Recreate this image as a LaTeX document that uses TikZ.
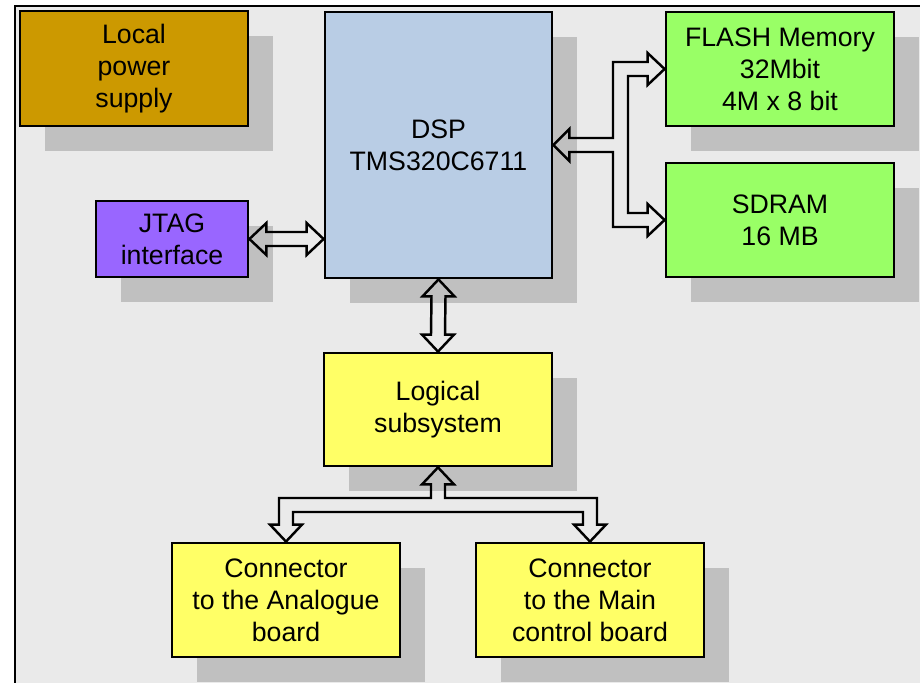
\documentclass[tikz,border=0pt]{standalone}
\usepackage{fontspec}
\setmainfont{Liberation Sans}
\usepackage{tikz}
\usetikzlibrary{calc,shadows,positioning}
\definecolor{panelgrey}{HTML}{EAEAEA}
\definecolor{shadowgrey}{HTML}{C0C0C0}
\definecolor{powerbrown}{HTML}{CC9900}
\definecolor{dspblue}{HTML}{B9CDE5}
\definecolor{memgreen}{HTML}{99FF66}
\definecolor{jtagviolet}{HTML}{9966FF}
\definecolor{logicyellow}{HTML}{FFFF66}
\tikzset{
  block/.style={draw=black, line width=1.6pt, rectangle, align=center,
    font=\fontsize{15.2}{18.2}\selectfont,
    drop shadow={shadow xshift=0.5cm, shadow yshift=-0.5cm, fill=shadowgrey, opacity=1}},
  hollow/.style={draw=black, line width=1.4pt, line join=miter},
}

\begin{document}
\begin{tikzpicture}[x=0.02cm,y=-0.02cm]

    \useasboundingbox (0,0) rectangle (920,683);

    %%%%%%%%%%%%%%%%%%
    %%%%% Panel %%%%%%
    %%%%%%%%%%%%%%%%%%
    \draw[fill=panelgrey, line width=1.2pt] (15,6) rectangle (940,700);

    %%%%%%%%%%%%%%%%%%
    %%%%% Blocks %%%%%
    %%%%%%%%%%%%%%%%%%
    \node[block, fill=powerbrown, minimum width=228*0.02cm, minimum height=115*0.02cm] (power) at (134,68.5) {Local\\power\\supply};
    \node[block, fill=dspblue, minimum width=227*0.02cm, minimum height=266*0.02cm] (dsp) at (438.5,145) {DSP\\TMS320C6711};
    \node[block, fill=memgreen, minimum width=228*0.02cm, minimum height=114*0.02cm] (flash) at (780,69) {FLASH Memory\\32Mbit\\4M x 8 bit};
    \node[block, fill=memgreen, minimum width=228*0.02cm, minimum height=114*0.02cm] (sdram) at (780,220) {SDRAM\\16 MB};
    \node[block, fill=jtagviolet, minimum width=152*0.02cm, minimum height=76*0.02cm] (jtag) at (172,239) {JTAG\\interface};
    \node[block, fill=logicyellow, minimum width=228*0.02cm, minimum height=113*0.02cm] (logic) at (438,409.5) {Logical\\subsystem};
    \node[block, fill=logicyellow, minimum width=228*0.02cm, minimum height=114*0.02cm] (analogue) at (286,600) {Connector\\to the Analogue\\board};
    \node[block, fill=logicyellow, minimum width=228*0.02cm, minimum height=114*0.02cm] (mainctl) at (590,600) {Connector\\to the Main\\control board};

    %%%%%%%%%%%%%%%%%%
    %%%%% Arrows %%%%%
    %%%%%%%%%%%%%%%%%%

    % JTAG <-> DSP
    \coordinate (jtagend) at (dsp.west |- jtag.east);
    \draw[hollow] (jtag.east) -- ++(17,-16) -- ++(0,9)
        -- ($(jtagend)+(-17,-7)$) -- ++(0,-9) -- (jtagend)
        -- ++(-17,16) -- ++(0,-9)
        -- ($(jtag.east)+(17,7)$) -- ++(0,9) -- cycle;

    % DSP <-> logical subsystem
    \draw[hollow] (dsp.south) -- ++(16,17) -- ++(-9,0)
        -- ($(logic.north)+(7,-17)$) -- ++(9,0) -- (logic.north)
        -- ++(-16,-17) -- ++(9,0)
        -- ($(dsp.south)+(-7,17)$) -- ++(-9,0) -- cycle;

    % DSP <-> FLASH and SDRAM
    \coordinate (busout) at (613,0);
    \coordinate (busin) at (628,0);
    \draw[hollow] (dsp.east) -- ++(16,-16) -- ++(0,9)
        -- ($(busout |- dsp.east)+(0,-7)$)
        -- ($(busout |- flash.west)+(0,-7)$)
        -- ($(flash.west)+(-17,-7)$) -- ++(0,-9) -- (flash.west)
        -- ++(-17,16) -- ++(0,-9)
        -- ($(busin |- flash.west)+(0,7)$)
        -- ($(busin |- sdram.west)+(0,-7)$)
        -- ($(sdram.west)+(-17,-7)$) -- ++(0,-9) -- (sdram.west)
        -- ++(-17,16) -- ++(0,-9)
        -- ($(busout |- sdram.west)+(0,7)$)
        -- ($(busout |- dsp.east)+(0,7)$)
        -- ($(dsp.east)+(16,7)$) -- ++(0,9) -- cycle;

    % Logical subsystem <-> both connectors
    \coordinate (busup) at (0,498);
    \coordinate (buslow) at (0,512);
    \draw[hollow] (logic.south) -- ++(16,17) -- ++(-9,0)
        -- ($(busup -| logic.south)+(7,0)$)
        -- ($(busup -| mainctl.north)+(7,0)$)
        -- ($(mainctl.north)+(7,-17)$) -- ++(9,0) -- (mainctl.north)
        -- ++(-16,-17) -- ++(9,0)
        -- ($(buslow -| mainctl.north)+(-7,0)$)
        -- ($(buslow -| analogue.north)+(7,0)$)
        -- ($(analogue.north)+(7,-17)$) -- ++(9,0) -- (analogue.north)
        -- ++(-16,-17) -- ++(9,0)
        -- ($(busup -| analogue.north)+(-7,0)$)
        -- ($(busup -| logic.south)+(-7,0)$)
        -- ($(logic.south)+(-7,17)$) -- ++(-9,0) -- cycle;

\end{tikzpicture}
\end{document}
